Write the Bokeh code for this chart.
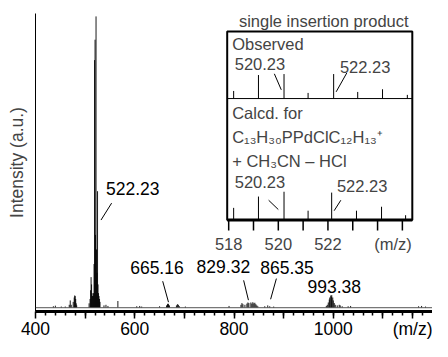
from bokeh.plotting import figure
from bokeh.models import Range1d, FixedTicker, Label, Span
from bokeh.embed import file_html
from bokeh.resources import INLINE

# ---------------- data ----------------
# main ESI mass spectrum, stick representation (m/z, relative intensity %)
spec_mz = [436, 440, 452, 460, 468, 470, 472, 476, 478, 479, 480, 481, 482, 483,
           508, 510, 511, 512, 513, 514, 515, 516, 517, 518, 519, 520, 521, 522,
           523, 524, 525, 526, 527, 528, 529, 530, 538, 542, 546, 566,
           604, 610, 614, 650, 664, 666, 667, 668, 670, 684, 686, 688, 690, 702,
           790, 814, 816, 818, 822, 826, 828, 830, 834, 836, 838, 840, 842, 844,
           846, 848, 862, 868, 872, 880,
           986, 988, 990, 992, 993, 995, 996, 997, 999, 1000, 1002, 1004, 1008,
           1012, 1014, 1018, 1030, 1035, 1172, 1178, 1186]
spec_int = [0.5, 0.7, 0.4, 0.4, 1.0, 2.5, 1.0, 2.0, 3.5, 4.2, 4.0, 3.0, 1.5, 0.8,
            1.5, 3.0, 6.0, 10.5, 8.0, 5.0, 4.0, 4.0, 5.0, 15, 85, 92, 25, 100,
            20, 12, 40, 8, 5, 4, 3, 2, 0.8, 1.0, 0.6, 2.3,
            0.5, 0.6, 0.4, 0.5, 0.8, 1.2, 1.4, 1.2, 0.8, 0.8, 1.2, 1.0, 0.5, 0.4,
            0.6, 1.0, 1.6, 1.2, 1.0, 1.4, 1.8, 1.6, 1.8, 1.4, 1.9, 1.5, 1.7, 1.2,
            0.8, 0.5, 0.5, 0.8, 0.5, 0.4,
            0.6, 1.0, 1.8, 2.8, 3.5, 4.2, 3.8, 4.3, 3.5, 2.5, 1.6, 1.0, 0.8,
            1.0, 0.8, 0.5, 0.5, 0.6, 0.5, 0.6, 0.4]

annotated_mz = [522.23, 665.16, 829.32, 865.35, 993.38]

main_major_ticks = [400, 500, 600, 700, 800, 900, 1000, 1100, 1160]
main_tick_labels = {400: "400", 600: "600", 800: "800", 1000: "1000", 1160: "(m/z)"}
main_minor_ticks = list(range(420, 1200, 20))

# inset: isotope pattern of the single insertion product
inset_ticks = [518, 519, 520, 521, 522, 523, 524, 525]
inset_tick_labels = {518: "518", 520: "520", 522: "522"}
obs_mz = [518.2, 519.2, 520.23, 521.2, 522.23, 523.2, 524.2, 525.2]
obs_int = [31, 96, 100, 23, 100, 27, 38, 15]
calc_mz = [518.2, 519.2, 520.23, 521.2, 522.15, 523.15, 524.16, 525.13]
calc_int = [43, 83, 100, 33, 97, 33, 47, 17]
inset_labelled = [520.23, 522.23]

# ---------------- layout / style ----------------
FONT = "Liberation Sans"
MAIN_FS = "17.5px"
INSET_FS = "16.5px"
BLACK = "black"
Y0, Y1 = -1.3, 101.0
IX0, IX1 = 510.214, 526.214          # inset m/z range spread over the frame width
OBS_BASE, OBS_FULL = 71.8, 8.41      # inset panel baselines / 100 % heights (main units)
CALC_BASE, CALC_FULL = 30.1, 9.71
BOX_L, BOX_R, BOX_T, BOX_B = 517.94, 525.40, 94.8, 30.1

p = figure(width=432, height=341, output_backend="svg", toolbar_location=None,
           x_range=Range1d(400, 1200), y_range=Range1d(Y0, Y1),
           min_border_left=35, min_border_right=0, min_border_top=13, min_border_bottom=0)
p.outline_line_color = None
p.grid.visible = False
p.background_fill_color = "white"
p.border_fill_color = "white"

p.extra_x_ranges = {"ix": Range1d(IX0, IX1)}
p.extra_y_ranges = {
    "oy": Range1d((Y0 - OBS_BASE) / OBS_FULL * 100, (Y1 - OBS_BASE) / OBS_FULL * 100),
    "cy": Range1d((Y0 - CALC_BASE) / CALC_FULL * 100, (Y1 - CALC_BASE) / CALC_FULL * 100),
}

# x axis
xa = p.xaxis[0]
xa.ticker = FixedTicker(ticks=main_major_ticks, minor_ticks=main_minor_ticks)
xa.major_label_overrides = {t: main_tick_labels.get(t, "") for t in main_major_ticks}
xa.axis_line_width = 3
xa.major_tick_line_width = 1.5
xa.minor_tick_line_width = 1.5
xa.major_tick_in = 0
xa.minor_tick_in = 0
xa.major_tick_out = 7
xa.minor_tick_out = 4
xa.major_label_standoff = 0
xa.axis_label_standoff = 0
xa.major_label_text_font = FONT
xa.major_label_text_font_size = MAIN_FS
xa.major_label_text_color = BLACK

# y axis
ya = p.yaxis[0]
ya.ticker = FixedTicker(ticks=[])
ya.axis_line_width = 1
ya.major_tick_out = 0
ya.minor_tick_out = 0
ya.major_label_standoff = 0
ya.axis_label = "Intensity (a.u.)"
ya.axis_label_text_font = FONT
ya.axis_label_text_font_size = MAIN_FS
ya.axis_label_text_font_style = "normal"
ya.axis_label_standoff = 9

# spectrum
p.add_layout(Span(location=0, dimension="width", line_color="#555555", line_width=1))
p.segment(x0=spec_mz, y0=[0] * len(spec_mz), x1=spec_mz, y1=spec_int,
          line_color=BLACK, line_width=0.9)

# main peak annotations
main_label_pos = [(596.1, 40.8), (644.7, 13.9), (778.6, 14.2), (906.8, 13.9), (1001.9, 7.4)]
main_leaders = [((553.4, 35.9), (532.0, 30.1)), ((656.3, 9.1), (668.0, 1.9)),
                ((819.4, 9.4), (829.1, 2.6)), ((885.4, 10.0), (873.8, 2.9)), None]
for m, (lx, ly), ld in zip(annotated_mz, main_label_pos, main_leaders):
    p.add_layout(Label(x=lx, y=ly, text=f"{m:.2f}", text_font=FONT, text_font_size=MAIN_FS,
                       text_align="center", text_baseline="middle", text_color=BLACK))
    if ld:
        p.segment(x0=[ld[0][0]], y0=[ld[0][1]], x1=[ld[1][0]], y1=[ld[1][1]],
                  line_color=BLACK, line_width=1)

# inset box, divider, axis, ticks
p.quad(left=[BOX_L], right=[BOX_R], bottom=[BOX_B], top=[BOX_T], x_range_name="ix",
       fill_color="white", line_color=BLACK, line_width=2)
p.segment(x0=[BOX_L], y0=[OBS_BASE], x1=[BOX_R], y1=[OBS_BASE], x_range_name="ix",
          line_color=BLACK, line_width=1)
p.segment(x0=[BOX_L], y0=[BOX_B], x1=[BOX_R], y1=[BOX_B], x_range_name="ix",
          line_color=BLACK, line_width=3)
p.segment(x0=inset_ticks, y0=[BOX_B] * len(inset_ticks), x1=inset_ticks,
          y1=[26.5] * len(inset_ticks), x_range_name="ix", line_color=BLACK, line_width=1.5)
for t, s in inset_tick_labels.items():
    p.add_layout(Label(x=t, y=22.0, x_range_name="ix", text=s, text_font=FONT,
                       text_font_size=INSET_FS, text_align="center", text_baseline="middle"))
p.add_layout(Label(x=524.62, y=22.0, x_range_name="ix", text="(m/z)", text_font=FONT,
                   text_font_size=INSET_FS, text_align="center", text_baseline="middle"))

# inset isotope sticks
p.segment(x0=obs_mz, y0=[0] * len(obs_mz), x1=obs_mz, y1=obs_int, x_range_name="ix",
          y_range_name="oy", line_color=BLACK, line_width=1)
p.segment(x0=calc_mz, y0=[0] * len(calc_mz), x1=calc_mz, y1=calc_int, x_range_name="ix",
          y_range_name="cy", line_color=BLACK, line_width=1)

# inset texts
inset_texts = [
    ("single insertion product", 521.83, 98.4, "center"),
    ("Observed", 518.14, 90.6, "left"),
    ("Calcd. for", 518.14, 67.0, "left"),
    ("C\u2081\u2083H\u2083\u2080PPdClC\u2081\u2082H\u2081\u2083\u207a", 518.14, 58.6, "left"),
    ("+ CH\u2083CN \u2013 HCl", 518.14, 50.5, "left"),
]
for s, x, y, al in inset_texts:
    p.add_layout(Label(x=x, y=y, x_range_name="ix", text=s, text_font=FONT,
                       text_font_size=INSET_FS, text_align=al, text_baseline="middle"))

inset_label_pos = [((519.26, 83.5), (523.50, 82.5)), ((519.26, 43.0), (523.38, 41.7))]
inset_leaders = [(((519.84, 80.3), (520.12, 74.8)), ((522.76, 80.6), (522.33, 74.1))),
                 (((519.61, 36.9), (520.00, 33.7)), ((522.52, 36.9), (522.25, 33.3)))]
for pos_pair, lead_pair in zip(inset_label_pos, inset_leaders):
    for m, (lx, ly), ((ax, ay), (bx, by)) in zip(inset_labelled, pos_pair, lead_pair):
        p.add_layout(Label(x=lx, y=ly, x_range_name="ix", text=f"{m:.2f}", text_font=FONT,
                           text_font_size=INSET_FS, text_align="center", text_baseline="middle"))
        p.segment(x0=[ax], y0=[ay], x1=[bx], y1=[by], x_range_name="ix",
                  line_color=BLACK, line_width=1)

open("out.html", "w").write(file_html(p, INLINE))
